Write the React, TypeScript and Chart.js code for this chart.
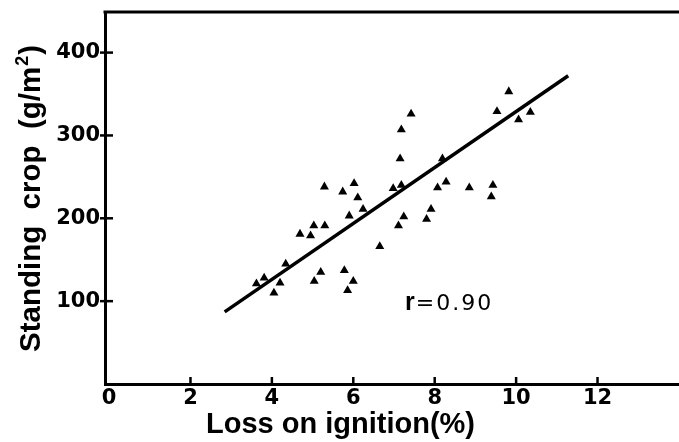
import React, { useEffect, useRef } from "react";
import { Chart, registerables } from "chart.js";

Chart.register(...registerables);

// Loss on ignition (%) for each sample
const lossOnIgnition = [
  7.42, 7.18, 7.15, 8.19, 5.29, 5.74, 6.02, 6.11, 6.24, 5.9,
  6.98, 7.18, 8.07, 8.28, 7.91, 7.8, 7.24, 7.11, 6.65, 5.03,
  5.3, 4.69, 4.95, 4.34, 3.81, 3.62, 4.2, 4.05, 5.2, 5.04,
  5.78, 6.0, 5.86, 9.82, 9.53, 10.35, 10.06, 8.85, 9.43, 9.39,
];
// Standing crop (g/m2) for each sample
const standingCrop = [
  326, 307, 272, 272, 238, 232, 242, 225, 211, 203,
  236, 240, 237, 244, 211, 199, 202, 191, 166, 191,
  191, 181, 179, 145, 128, 121, 122, 110, 135, 124,
  137, 124, 113, 353, 329, 328, 319, 237, 240, 226,
];
// Regression line end points
const fitX = [2.84, 11.28];
const fitY = [87, 372];

const xTicks = [0, 2, 4, 6, 8, 10, 12];
const yTicks = [100, 200, 300, 400];
const xTitle = "Loss on ignition(%)";
const yTitleMain = "Standing  crop  (g/m";
const yTitleSup = "2";
const yTitleEnd = ")";
const rText = "r";
const rValue = "=0.90";
const rPos = { x: 7.27, y: 98 };

const FONT = '"Liberation Sans", Arial, sans-serif';
const TICK_FONT = '"DejaVu Sans", sans-serif';

const decorPlugin = {
  id: "decor",
  afterDraw(chart: any) {
    const { ctx, chartArea } = chart;
    const xs = chart.scales.x;
    const ys = chart.scales.y;
    ctx.save();
    ctx.strokeStyle = "#000";
    ctx.fillStyle = "#000";
    // top frame line
    ctx.lineWidth = 3;
    ctx.beginPath();
    ctx.moveTo(chartArea.left - 1.5, chartArea.top);
    ctx.lineTo(chart.width, chartArea.top);
    ctx.stroke();
    // tick marks
    ctx.lineWidth = 2.5;
    yTicks.forEach((v) => {
      const py = ys.getPixelForValue(v);
      ctx.beginPath();
      ctx.moveTo(chartArea.left - 5, py);
      ctx.lineTo(chartArea.left + 8, py);
      ctx.stroke();
    });
    xTicks.forEach((v) => {
      if (v === 0) return;
      const px = xs.getPixelForValue(v);
      ctx.beginPath();
      ctx.moveTo(px, chartArea.bottom);
      ctx.lineTo(px, chartArea.bottom - 7);
      ctx.stroke();
    });
    // x title
    ctx.textAlign = "left";
    ctx.textBaseline = "alphabetic";
    ctx.font = `bold 29px ${FONT}`;
    ctx.fillText(xTitle, chartArea.left + 101, 433);
    // y title (rotated)
    ctx.save();
    ctx.translate(40, 352);
    ctx.rotate(-Math.PI / 2);
    ctx.font = `bold 29.5px ${FONT}`;
    ctx.fillText(yTitleMain, 0, 0);
    let w = ctx.measureText(yTitleMain).width + 1;
    ctx.font = `bold 18px ${FONT}`;
    ctx.fillText(yTitleSup, w, -12);
    w += ctx.measureText(yTitleSup).width + 1;
    ctx.font = `bold 29.5px ${FONT}`;
    ctx.fillText(yTitleEnd, w, 0);
    ctx.restore();
    // r label
    const rx = xs.getPixelForValue(rPos.x);
    const ry = ys.getPixelForValue(rPos.y);
    ctx.textBaseline = "middle";
    ctx.font = `bold 25px ${FONT}`;
    ctx.fillText(rText, rx, ry);
    const rw = ctx.measureText(rText).width;
    ctx.font = `22px "DejaVu Sans", sans-serif`;
    (ctx as any).letterSpacing = "2px";
    ctx.fillText(rValue, rx + rw + 1, ry + 1);
    ctx.restore();
  },
};

export default function App() {
  const ref = useRef<HTMLCanvasElement | null>(null);
  useEffect(() => {
    if (!ref.current) return;
    const points = lossOnIgnition.map((x, i) => ({ x, y: standingCrop[i] }));
    const line = fitX.map((x, i) => ({ x, y: fitY[i] }));
    const tickFont = { family: TICK_FONT, size: 21, weight: "bold" as const };
    const chart = new Chart(ref.current, {
      type: "scatter",
      data: {
        datasets: [
          {
            data: points,
            pointStyle: "triangle",
            pointRadius: 5.2,
            pointBackgroundColor: "#000",
            pointBorderColor: "#000",
            pointBorderWidth: 0,
          },
          {
            type: "line",
            data: line,
            showLine: true,
            borderColor: "#000",
            borderWidth: 3.5,
            pointRadius: 0,
            fill: false,
          } as any,
        ],
      },
      options: {
        animation: false,
        responsive: false,
        devicePixelRatio: 1,
        layout: { padding: { top: 12, left: 0, right: 0, bottom: 0 } },
        plugins: {
          legend: { display: false },
          tooltip: { enabled: false },
          title: { display: false },
        },
        scales: {
          x: {
            type: "linear",
            min: -0.1,
            max: 14.39,
            afterBuildTicks: (s: any) => {
              s.ticks = xTicks.map((v) => ({ value: v }));
            },
            afterFit: (s: any) => {
              s.height = 58;
              s.paddingLeft = 0;
              s.paddingRight = 0;
            },
            grid: { display: false, drawTicks: false },
            border: { display: true, color: "#000", width: 3 },
            ticks: {
              color: "#000",
              font: tickFont,
              padding: 2,
              maxRotation: 0,
              autoSkip: false,
            },
          },
          y: {
            type: "linear",
            min: 0,
            max: 449,
            afterBuildTicks: (s: any) => {
              s.ticks = yTicks.map((v) => ({ value: v }));
            },
            afterFit: (s: any) => {
              s.width = 105;
              s.paddingTop = 0;
              s.paddingBottom = 0;
            },
            grid: { display: false, drawTicks: false },
            border: { display: true, color: "#000", width: 3 },
            ticks: {
              color: "#000",
              font: tickFont,
              padding: 5,
              autoSkip: false,
            },
          },
        },
      },
      plugins: [decorPlugin],
    });
    return () => chart.destroy();
  }, []);
  return (
    <div
      style={{
        position: "fixed",
        left: 0,
        top: 0,
        width: 679,
        height: 442,
        overflow: "hidden",
        background: "#fff",
      }}
    >
      <canvas ref={ref} width={700} height={442} />
    </div>
  );
}
